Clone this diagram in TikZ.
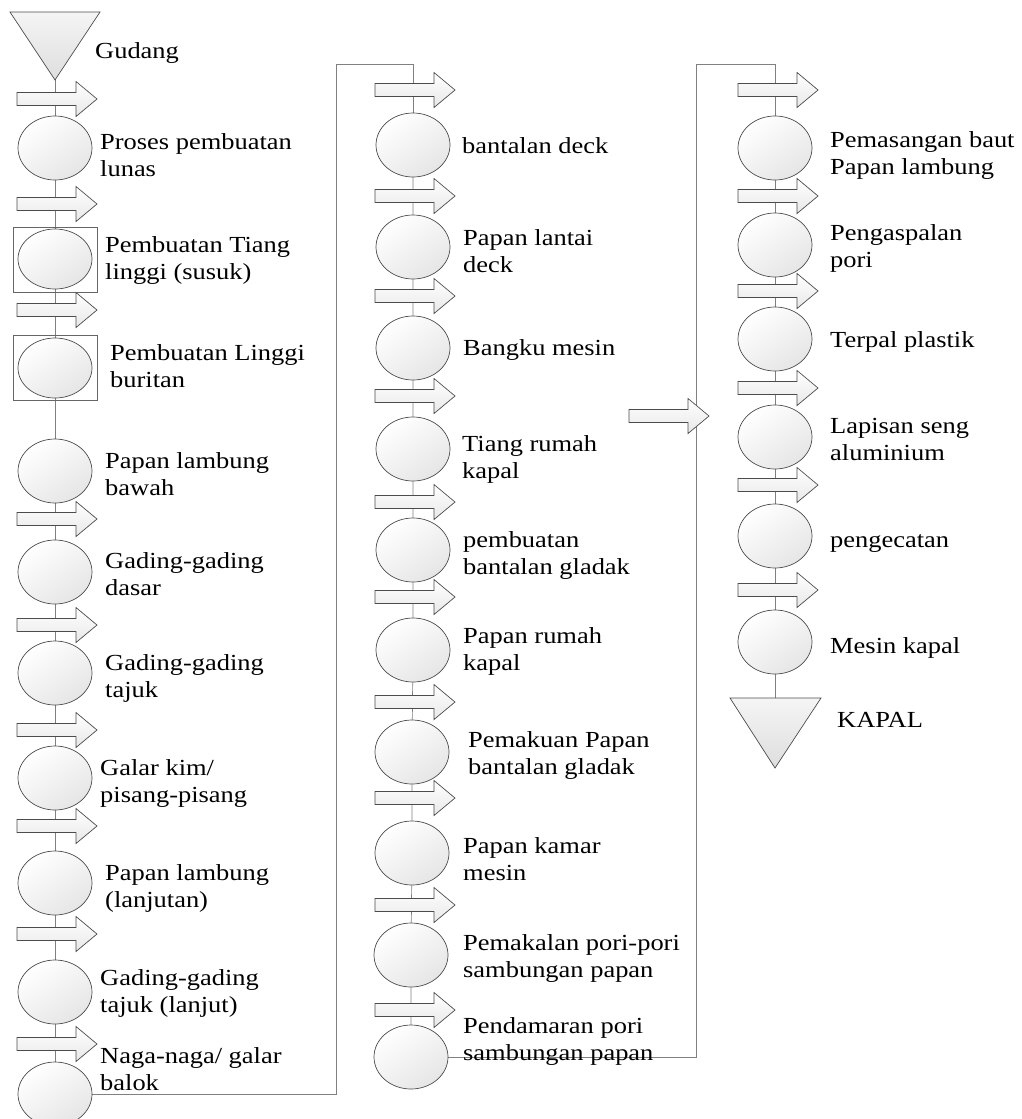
\documentclass[tikz,border=0pt]{standalone}
\usepackage{fontspec}
\setmainfont{Liberation Serif}[FakeStretch=1.15]
\usetikzlibrary{shapes.geometric,backgrounds}
\newcommand\mytwo[2]{\begin{tabular}[t]{@{}l@{}}#1\\#2\end{tabular}}
\newcommand\myblk[2]{\draw[blk,shift={(#1,#2)}] (-38,-6.5) -- (21,-6.5) -- (21,-17.5) -- (42,0) -- (21,17.5) -- (21,6.5) -- (-38,6.5) -- cycle;}
\begin{document}
\begin{tikzpicture}[x=1pt,y=-1pt,
  proc/.style={ellipse, draw=black!70, line width=0.7pt, minimum width=74pt, minimum height=64pt, inner sep=0pt, top color=white, bottom color=black!10, shading angle=35},
  blk/.style={draw=black!70, line width=0.7pt, top color=white, bottom color=black!9},
  tri/.style={draw=black!70, line width=0.7pt, top color=black!4, bottom color=black!13},
  conn/.style={draw=black!50, line width=0.7pt},
  boxx/.style={draw=black!60, line width=0.7pt, minimum width=84pt, minimum height=65pt, inner sep=0pt},
  lbl/.style={anchor=base west, inner sep=0pt, font=\fontsize{23}{27}\selectfont}]
\useasboundingbox (0,0) rectangle (1021,1119);
% triangles
\draw[tri] (10,12) -- (100,12) -- (55,80) -- cycle;
\coordinate (t1tip) at (55,80);
\draw[tri] (730,698) -- (821,698) -- (775,768) -- cycle;
\coordinate (t2top) at (775,698);
\coordinate (k1) at (336,64);
\coordinate (k2) at (696,64);
% boxes
\node[boxx] (b2) at (55,259.5) {};
\node[boxx] (b3) at (55,367.5) {};
% column 1 processes
\node[proc] (e1) at (55,148) {};
\node[proc, minimum height=60pt] (e2) at (55,259) {};
\node[proc, minimum height=60pt] (e3) at (55,368) {};
\node[proc] (e4) at (55,471) {};
\node[proc] (e5) at (55,572) {};
\node[proc] (e6) at (55,673) {};
\node[proc] (e7) at (55,778) {};
\node[proc] (e8) at (55,883) {};
\node[proc] (e9) at (55,992) {};
\node[proc] (e10) at (55,1094) {};
% column 2 processes
\node[proc] (f1) at (413,145) {};
\node[proc] (f2) at (413,247) {};
\node[proc] (f3) at (413,348) {};
\node[proc] (f4) at (413,449) {};
\node[proc] (f5) at (413,550) {};
\node[proc] (f6) at (413,650) {};
\node[proc] (f7) at (412,752) {};
\node[proc] (f8) at (412,853) {};
\node[proc] (f9) at (411,955) {};
\node[proc] (f10) at (411,1057) {};
% column 3 processes
\node[proc] (g1) at (775,148) {};
\node[proc] (g2) at (775,245) {};
\node[proc] (g3) at (775,339) {};
\node[proc] (g4) at (775,437) {};
\node[proc] (g5) at (775,536) {};
\node[proc] (g6) at (775,642) {};
% connectors
\begin{scope}[on background layer]
\draw[conn] (t1tip) -- (e1) -- (e2) -- (e3) -- (e4) -- (e5) -- (e6) -- (e7) -- (e8) -- (e9) -- (e10);
\draw[conn] (e10.east) -| (k1) -| (f1.north);
\draw[conn] (f1) -- (f2) -- (f3) -- (f4) -- (f5) -- (f6) -- (f7) -- (f8) -- (f9) -- (f10);
\draw[conn] (f10.east) -| (k2) -| (g1.north);
\draw[conn] (g1) -- (g2) -- (g3) -- (g4) -- (g5) -- (g6) -- (t2top);
\end{scope}
% block arrows
\foreach \yy in {99,204,310,519,625,730,826,934,1044} {\myblk{55}{\yy}}
\foreach \yy in {90,196,296,396,502,597,702,798,905,1010} {\myblk{413}{\yy}}
\foreach \yy in {90,196,291,388,485,590} {\myblk{776}{\yy}}
\myblk{667}{416}
% labels column 1
\node[lbl] (l0) at (95,58) {Gudang};
\node[lbl] (l1) at (100,149) {\mytwo{Proses pembuatan}{lunas}};
\node[lbl] (l2) at (105,252) {\mytwo{Pembuatan Tiang}{linggi (susuk)}};
\node[lbl] (l3) at (110,360) {\mytwo{Pembuatan Linggi}{buritan}};
\node[lbl] (l4) at (105,468) {\mytwo{Papan lambung}{bawah}};
\node[lbl] (l5) at (105,568) {\mytwo{Gading-gading}{dasar}};
\node[lbl] (l6) at (105,670) {\mytwo{Gading-gading}{tajuk}};
\node[lbl] (l7) at (100,775) {\mytwo{Galar kim/}{pisang-pisang}};
\node[lbl] (l8) at (105,880) {\mytwo{Papan lambung}{(lanjutan)}};
\node[lbl] (l9) at (100,985) {\mytwo{Gading-gading}{tajuk (lanjut)}};
\node[lbl] (l10) at (100,1063) {\mytwo{Naga-naga/ galar}{balok}};
% labels column 2
\node[lbl] (m1) at (462,153) {bantalan deck};
\node[lbl] (m2) at (463,245) {\mytwo{Papan lantai}{deck}};
\node[lbl] (m3) at (463,355) {Bangku mesin};
\node[lbl] (m4) at (462,451) {\mytwo{Tiang rumah}{kapal}};
\node[lbl] (m5) at (463,547) {\mytwo{pembuatan}{bantalan gladak}};
\node[lbl] (m6) at (463,643) {\mytwo{Papan rumah}{kapal}};
\node[lbl] (m7) at (468,747) {\mytwo{Pemakuan Papan}{bantalan gladak}};
\node[lbl] (m8) at (463,853) {\mytwo{Papan kamar}{mesin}};
\node[lbl] (m9) at (463,950) {\mytwo{Pemakalan pori-pori}{sambungan papan}};
\node[lbl] (m10) at (463,1033) {\mytwo{Pendamaran pori}{sambungan papan}};
% labels column 3
\node[lbl] (n1) at (830,147) {\mytwo{Pemasangan baut}{Papan lambung}};
\node[lbl] (n2) at (830,240) {\mytwo{Pengaspalan}{pori}};
\node[lbl] (n3) at (830,347) {Terpal plastik};
\node[lbl] (n4) at (830,433) {\mytwo{Lapisan seng}{aluminium}};
\node[lbl] (n5) at (830,547) {pengecatan};
\node[lbl] (n6) at (830,653) {Mesin kapal};
\node[lbl] (n7) at (837,727) {KAPAL};
\end{tikzpicture}
\end{document}
